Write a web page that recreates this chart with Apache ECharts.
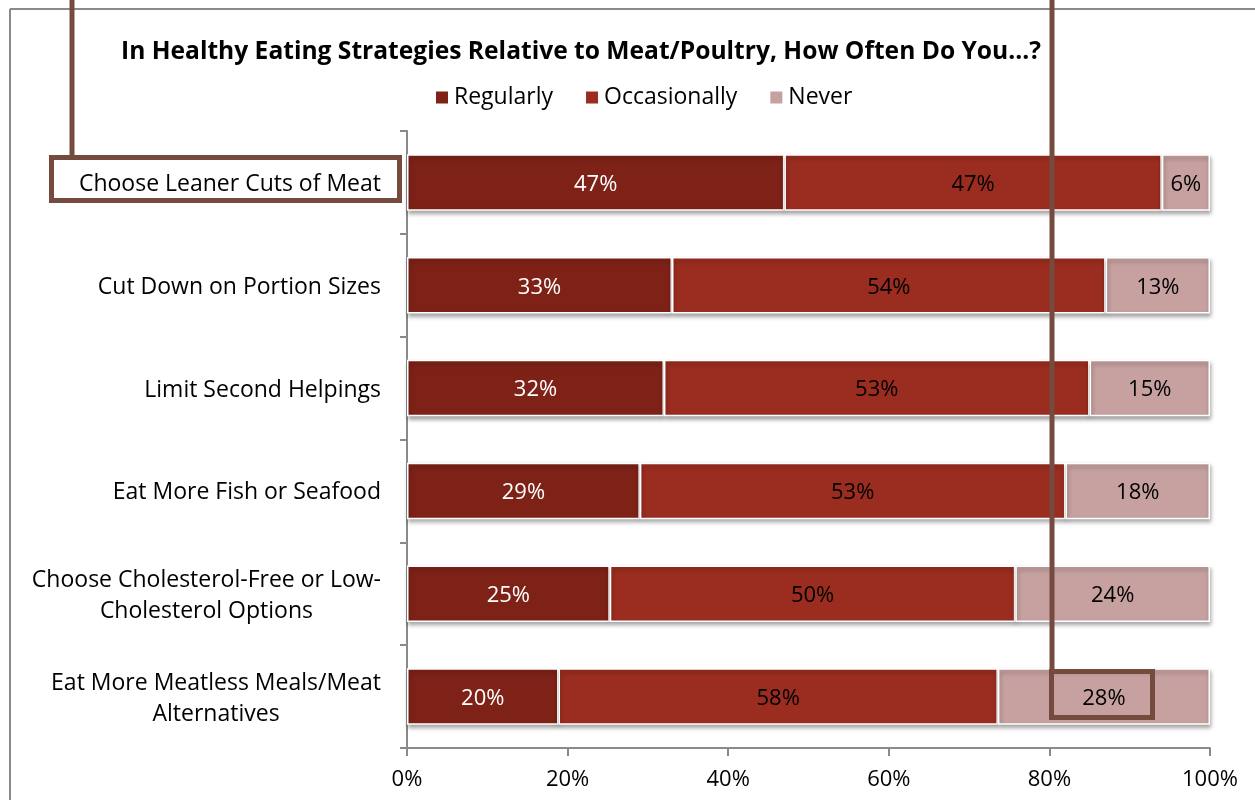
<!DOCTYPE html>
<html>
<head>
<meta charset="utf-8">
<script src="https://cdn.jsdelivr.net/npm/echarts@6/dist/echarts.min.js"></script>
<style>
  html, body { margin: 0; padding: 0; background: #ffffff; }
  #chart { width: 1255px; height: 800px; }
</style>
</head>
<body>
<div id="chart"></div>
<script>
// Survey answers per strategy (percent of respondents)
const categories = [
  'Choose Leaner Cuts of Meat',
  'Cut Down on Portion Sizes',
  'Limit Second Helpings',
  'Eat More Fish or Seafood',
  'Choose Cholesterol-Free or Low-\nCholesterol Options',
  'Eat More Meatless Meals/Meat\nAlternatives'
];
const regularly    = [47, 33, 32, 29, 25, 20];
const occasionally = [47, 54, 53, 53, 50, 58];
const never        = [6, 13, 15, 18, 24, 28];
const xTickLabels  = ['0%', '20%', '40%', '60%', '80%', '100%'];

const FONT = '"Open Sans", "Noto Sans", sans-serif';
const seriesNames = ['Regularly', 'Occasionally', 'Never'];
const seriesValues = [regularly, occasionally, never];
const colors = ['#7E2218', '#9B2D20', '#C6A1A0'];
const labelColors = ['#ffffff', '#000000', '#000000'];

// 100% stacked: each row is scaled to its own total, labels keep the answered value
const rowTotals = categories.map((_, i) =>
  seriesValues.reduce((s, arr) => s + arr[i], 0));

const series = seriesValues.map((arr, k) => ({
  name: seriesNames[k],
  type: 'bar',
  stack: 'total',
  barWidth: '55%',
  data: arr.map((v, i) => ({ value: v / rowTotals[i] * 100, raw: v })),
  itemStyle: {
    color: colors[k],
    borderColor: '#ffffff',
    borderWidth: 1.5,
    shadowColor: 'rgba(0,0,0,0.35)',
    shadowBlur: 4,
    shadowOffsetY: 3,
    shadowOffsetX: 1
  },
  label: {
    show: true,
    position: 'inside',
    offset: [0, 2],
    color: labelColors[k],
    fontFamily: FONT,
    fontSize: 22,
    formatter: p => p.data.raw + '%'
  },
  emphasis: { disabled: true }
}));

const chart = echarts.init(document.getElementById('chart'), null, { renderer: 'canvas' });

const frameColor = '#8a8a8a';
const noteColor = '#744B3E';

chart.setOption({
  animation: false,
  backgroundColor: '#ffffff',
  title: {
    text: 'In Healthy Eating Strategies Relative to Meat/Poultry, How Often Do You...?',
    left: 576,
    top: 34,
    textAlign: 'center',
    textStyle: { fontFamily: FONT, fontWeight: 'bold', fontSize: 24.6, color: '#000000' }
  },
  legend: {
    data: seriesNames,
    left: 429,
    top: 81,
    itemWidth: 14,
    itemHeight: 14,
    itemGap: 31,
    icon: 'rect',
    textStyle: { fontFamily: FONT, fontSize: 23, color: '#000000', padding: [0, 0, 0, 0] }
  },
  grid: { left: 407, right: 45, top: 131, bottom: 52, containLabel: false },
  xAxis: {
    type: 'value',
    min: 0,
    max: 100,
    interval: 20,
    axisLine: { show: true, lineStyle: { color: frameColor, width: 2 } },
    axisTick: { show: true, length: 8, lineStyle: { color: frameColor, width: 2 } },
    splitLine: { show: false },
    axisLabel: {
      margin: 21,
      fontFamily: FONT,
      fontSize: 22,
      color: '#000000',
      formatter: v => xTickLabels[Math.round(v / 20)]
    }
  },
  yAxis: {
    type: 'category',
    inverse: true,
    data: categories,
    axisLine: { show: true, lineStyle: { color: frameColor, width: 2 } },
    axisTick: { show: true, length: 7, lineStyle: { color: frameColor, width: 2 } },
    axisLabel: {
      margin: 26,
      fontFamily: FONT,
      fontSize: 23,
      color: '#000000',
      lineHeight: 31,
      padding: [4, 0, 0, 0],
      formatter: v => v.split('\n').map(l => '{c|' + l + '}').join('\n'),
      rich: { c: { align: 'center', fontFamily: FONT, fontSize: 23, color: '#000000', lineHeight: 31 } }
    }
  },
  series: series,
  graphic: [
    // chart frame
    { type: 'line', shape: { x1: 10, y1: 9, x2: 1255, y2: 9 }, style: { stroke: frameColor, lineWidth: 2 }, z: 100 },
    { type: 'line', shape: { x1: 10, y1: 9, x2: 10, y2: 800 }, style: { stroke: frameColor, lineWidth: 2 }, z: 100 },
    // callout around the first strategy
    { type: 'line', shape: { x1: 72, y1: 0, x2: 72, y2: 157 }, style: { stroke: noteColor, lineWidth: 5 }, z: 110 },
    { type: 'rect', shape: { x: 51.5, y: 157.5, width: 348, height: 43 }, style: { stroke: noteColor, fill: null, lineWidth: 5 }, z: 110 },
    // callout around the last "Never" share
    { type: 'line', shape: { x1: 1052, y1: 0, x2: 1052, y2: 671 }, style: { stroke: noteColor, lineWidth: 5 }, z: 110 },
    { type: 'rect', shape: { x: 1051.5, y: 671.5, width: 101, height: 46 }, style: { stroke: noteColor, fill: null, lineWidth: 5 }, z: 110 }
  ]
});
</script>
</body>
</html>
